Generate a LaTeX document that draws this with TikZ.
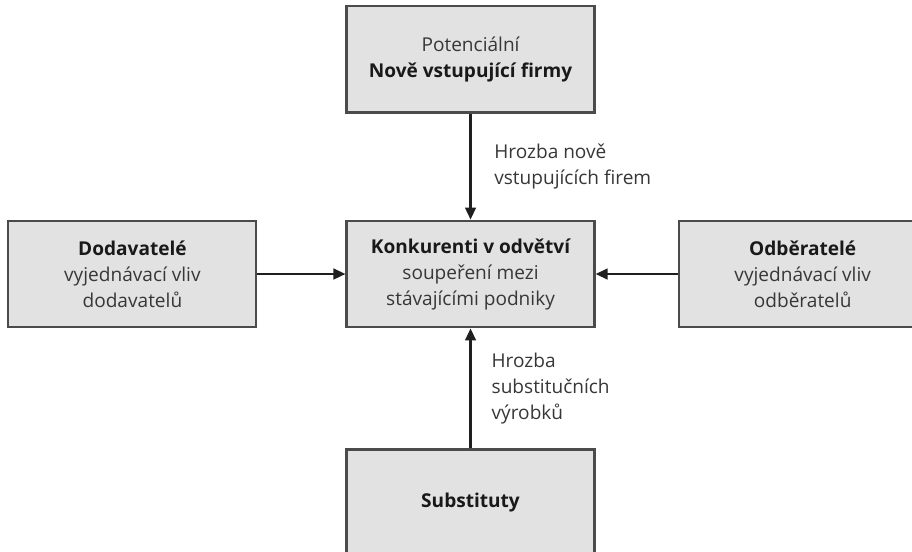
\documentclass[tikz,border=0pt]{standalone}
\usepackage{fontspec}
\setmainfont{Open Sans}
\usetikzlibrary{arrows.meta, positioning}
\definecolor{BoxGrey}{RGB}{226, 226, 226}
\definecolor{EdgeGrey}{RGB}{75, 75, 75}
\definecolor{TextGrey}{RGB}{55, 55, 55}
\newcommand{\head}[1]{\textbf{\textcolor{black!90}{#1}}}

\begin{document}
\begin{tikzpicture}[
    every node/.style={font=\fontsize{14.3}{19.5}\selectfont, align=center, text=TextGrey},
    force/.style={draw=EdgeGrey, fill=BoxGrey, line width=1.6pt,
                  minimum width=186pt, minimum height=80pt, inner sep=2pt},
    threat/.style={align=left, inner sep=0pt},
    push/.style={-{Triangle[length=9pt, width=8pt]}, line width=1.7pt, black!88}
]
\useasboundingbox (0,0) rectangle (684pt,-413.25pt);
\clip (0,0) rectangle (684pt,-413.25pt);
\node[force] (rivals) at (352.9pt,-205.5pt) {\head{Konkurenti v odvětví}\\soupeření mezi\\stávajícími podniky};
\node[force, above=79.5pt of rivals] (entrants) {Potenciální\\\head{Nově vstupující firmy}};
\node[force, left=66pt of rivals] (suppliers) {\head{Dodavatelé}\\vyjednávací vliv\\dodavatelů};
\node[force, right=61.5pt of rivals] (buyers) {\head{Odběratelé}\\vyjednávací vliv\\odběratelů};
\node[force, below=90pt of rivals] (substitutes) {\head{Substituty}};
\draw[push] (entrants) -- (rivals)
    node[threat, midway, right=17pt] {Hrozba nově\\vstupujících firem};
\draw[push] (substitutes) -- (rivals)
    node[threat, midway, right=15pt] {Hrozba\\substitučních\\výrobků};
\draw[push] (suppliers) -- (rivals);
\draw[push] (buyers) -- (rivals);
\end{tikzpicture}
\end{document}
